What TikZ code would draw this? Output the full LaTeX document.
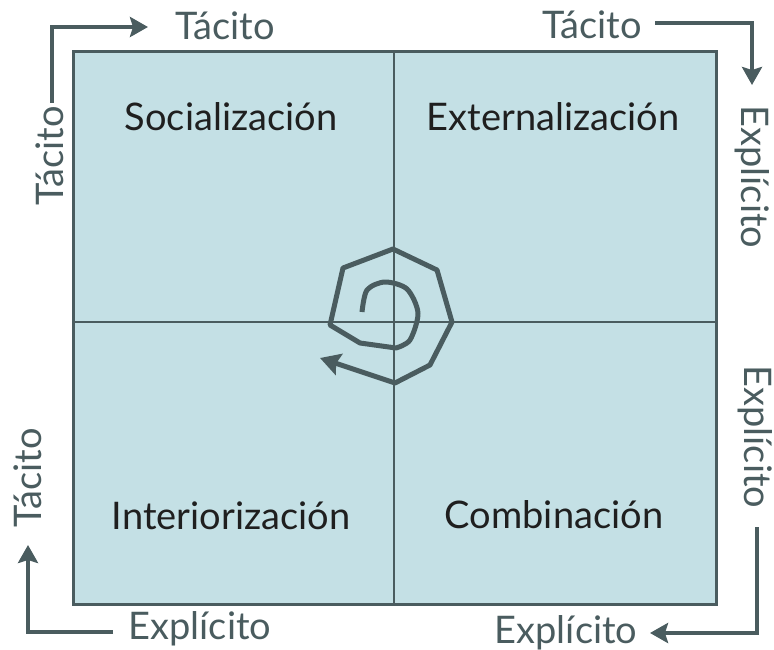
\documentclass[tikz,border=0pt]{standalone}
\usepackage{fontspec}
\setmainfont{Lato}
\usepackage{tikz}
\usetikzlibrary{arrows.meta}
\usetikzlibrary{positioning}
\definecolor{boxfill}{HTML}{C4E0E5}
\definecolor{slate}{HTML}{4A5C5F}

\begin{document}
\begin{tikzpicture}[x=1pt,y=-1pt,
    eje/.style={text=slate, font=\fontsize{38}{38}\selectfont, inner sep=0pt, anchor=base},
    modo/.style={text=black!88, font=\fontsize{38}{38}\selectfont, inner sep=0pt, anchor=base},
    flecha/.style={draw=slate, line width=4.5pt, -{Stealth[length=18pt, width=20pt, inset=3pt]}}]
            \useasboundingbox (0,0) rectangle (774,650);
            % cuadro
            \draw[draw=slate, line width=3pt, fill=boxfill] (73,52) rectangle (716,604);
            \draw[slate, line width=1.5pt] (394,52) -- (394,604);
            \draw[slate, line width=1.5pt] (73,322) -- (716,322);

            % modos
            \draw (231,131) node[modo]                  (soc) {Socialización};
            \draw (553,131) node[modo]                  (ext) {Externalización};
            \draw (231,529) node[modo]                  (int) {Interiorización};
            \draw (554,528) node[modo]                  (com) {Combinación};

            % ejes
            \draw (225,40) node[eje]                    (t1) {Tácito};
            \draw (63,156) node[eje, rotate=90]         (t2) {Tácito};
            \draw (592,39) node[eje]                    (t3) {Tácito};
            \draw (741.5,177) node[eje, rotate=-90]     (e1) {Explícito};
            \draw (744,437) node[eje, rotate=-90]       (e2) {Explícito};
            \draw (566,643) node[eje]                   (e3) {Explícito};
            \draw (200,639) node[eje]                   (e4) {Explícito};
            \draw (41,478) node[eje, rotate=90]         (t4) {Tácito};

            \coordinate (a1) at (52,103);  \coordinate (a2) at (52,27);   \coordinate (a3) at (148,27);
            \coordinate (b1) at (655,23);  \coordinate (b2) at (752,23);  \coordinate (b3) at (752,85);
            \coordinate (c1) at (757,527); \coordinate (c2) at (757,633); \coordinate (c3) at (650,633);
            \coordinate (d1) at (113,632); \coordinate (d2) at (28,632);  \coordinate (d3) at (28,545);
            \draw[flecha] (a1) -- (a2) -- (a3);
            \draw[flecha] (b1) -- (b2) -- (b3);
            \draw[flecha] (c1) -- (c2) -- (c3);
            \draw[flecha] (d1) -- (d2) -- (d3);

            % espiral
            \draw[slate, line width=5pt, line join=round, -{Stealth[length=20pt, width=22pt, inset=3pt]}]
                plot[smooth] coordinates {(362,312) (367,290) (385,282) (407,289) (418,313) (410,340) (396,348)}
                -- (360,343) -- (330,325) -- (343,268) -- (393,249) -- (437,270)
                -- (452,322) -- (430,365) -- (395,383) -- (320,358);

            \end{tikzpicture}
\end{document}
